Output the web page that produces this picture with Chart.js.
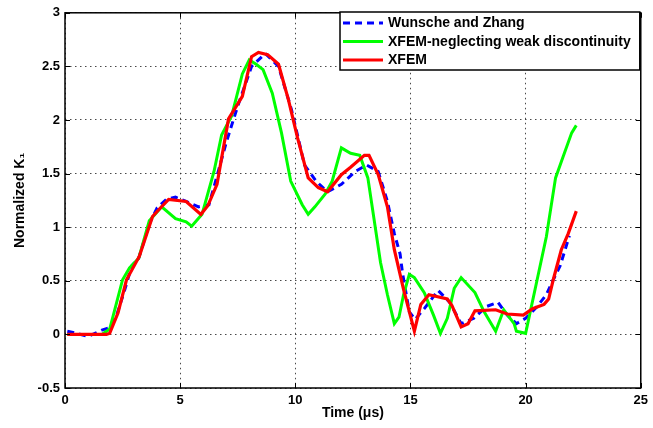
<!DOCTYPE html>
<html><head><meta charset="utf-8">
<script src="https://cdn.jsdelivr.net/npm/chart.js@4/dist/chart.umd.min.js"></script>
<style>html,body{margin:0;padding:0;background:#fff}canvas{display:block}</style>
</head><body>
<canvas id="c" width="653" height="428"></canvas>
<script>
// ---- data ----
const seriesNames = ["Wunsche and Zhang", "XFEM-neglecting weak discontinuity", "XFEM"];
const xTickVals = [0, 5, 10, 15, 20, 25];
const yTickVals = [-0.5, 0, 0.5, 1, 1.5, 2, 2.5, 3];

const wzT = [0.1,0.5,1.0,1.6,1.9,2.2,2.6,2.9,3.2,3.66,4.0,4.4,4.8,5.26,5.8,6.25,6.5,7.0,7.5,8.1,8.7,9.27,9.83,10.4,10.9,11.4,12.0,12.6,13.1,13.6,14.0,14.3,14.55,14.65,14.95,15.2,15.6,16.2,16.7,17.2,17.75,18.3,18.8,19.2,19.6,20.0,20.5,20.9,21.2,21.5,21.9];
const wzK = [0.03,0.01,-0.02,0.04,0.06,0.15,0.42,0.64,0.71,1.03,1.18,1.26,1.28,1.24,1.19,1.21,1.4,1.79,2.13,2.5,2.62,2.5,2.1,1.58,1.43,1.33,1.4,1.52,1.58,1.52,1.24,0.94,0.75,0.58,0.21,0.14,0.24,0.41,0.3,0.1,0.15,0.26,0.3,0.18,0.1,0.15,0.26,0.37,0.51,0.64,0.92];

const ngT = [0.1,1.6,1.94,2.5,2.8,3.2,3.66,4.2,4.8,5.26,5.5,5.95,6.47,6.8,7.24,7.7,8.0,8.3,8.6,9.0,9.4,9.8,10.3,10.56,10.85,11.3,11.6,12.0,12.4,12.8,13.15,13.45,13.7,14.0,14.3,14.5,14.7,14.95,15.17,15.6,16.0,16.3,16.6,16.9,17.2,17.8,18.2,18.7,19.05,19.5,19.6,20.0,20.5,20.9,21.3,21.6,22.0,22.2];
const ngK = [0,0,0.05,0.51,0.62,0.71,1.06,1.19,1.08,1.05,1.01,1.12,1.52,1.86,2.04,2.43,2.56,2.52,2.47,2.25,1.88,1.43,1.21,1.12,1.19,1.31,1.43,1.74,1.69,1.67,1.46,1.03,0.67,0.37,0.1,0.16,0.37,0.56,0.53,0.39,0.18,0.01,0.15,0.43,0.53,0.39,0.21,0.03,0.23,0.1,0.03,0.01,0.51,0.91,1.46,1.64,1.88,1.95];

const xfT = [0.1,1.8,1.94,2.3,2.67,3.23,3.8,4.1,4.5,5.26,5.9,6.2,6.6,7.1,7.7,8.1,8.4,8.8,9.27,9.7,10.1,10.56,11.0,11.4,12.0,12.4,13.0,13.2,13.6,14.0,14.3,14.7,15.17,15.45,15.8,16.6,16.8,17.2,17.5,17.8,18.7,19.2,19.9,20.3,20.8,21.0,21.2,21.55,21.85,22.2];
const xfK = [0,0,0.01,0.2,0.51,0.73,1.1,1.17,1.26,1.24,1.12,1.2,1.4,2.01,2.22,2.59,2.63,2.61,2.52,2.19,1.83,1.46,1.37,1.33,1.49,1.56,1.67,1.67,1.49,1.19,0.79,0.42,0.03,0.28,0.37,0.33,0.27,0.07,0.1,0.22,0.23,0.19,0.18,0.24,0.28,0.33,0.51,0.79,0.94,1.15];

const pts = (t, k) => t.map((v, i) => ({x: v, y: k[i]}));
const FONT = "'Liberation Sans', Arial, Helvetica, sans-serif";

const framePlugin = {
  id: 'frame',
  afterDraw(chart) {
    const {ctx, chartArea: a, scales: {x, y}} = chart;
    ctx.save();
    ctx.strokeStyle = '#000';
    ctx.lineWidth = 1;
    const ln = (x1, y1, x2, y2) => { ctx.beginPath(); ctx.moveTo(x1, y1); ctx.lineTo(x2, y2); ctx.stroke(); };
    xTickVals.forEach(v => { const p = Math.round(x.getPixelForValue(v)) + 0.5; ln(p, a.bottom, p, a.bottom - 5); ln(p, a.top, p, a.top + 5); });
    yTickVals.forEach(v => { const p = Math.round(y.getPixelForValue(v)) + 0.5; ln(a.left, p, a.left + 5, p); ln(a.right, p, a.right - 5, p); });
    ctx.lineWidth = 1.5;
    ctx.strokeRect(a.left, a.top, a.right - a.left, a.bottom - a.top);

    // legend box (inside, top right)
    const lx = 340, ly = 12, lw = a.right - 1 - lx, lh = 58;
    ctx.fillStyle = '#fff';
    ctx.fillRect(lx, ly, lw, lh);
    ctx.lineWidth = 1.5;
    ctx.strokeRect(lx, ly, lw, lh);
    ctx.font = "bold 14px " + FONT;
    ctx.textBaseline = 'middle';
    ctx.textAlign = 'left';
    const rows = [23, 41.5, 60];
    chart.data.datasets.forEach((ds, i) => {
      const yy = rows[i];
      ctx.strokeStyle = ds.borderColor;
      ctx.lineWidth = ds.borderWidth;
      ctx.setLineDash(ds.borderDash || []);
      ln(343, yy, 383, yy);
      ctx.setLineDash([]);
      ctx.fillStyle = '#000';
      ctx.fillText(ds.label, 388, yy + 0.5);
    });
    ctx.restore();
  }
};

new Chart(document.getElementById('c'), {
  type: 'scatter',
  data: {
    datasets: [
      {label: seriesNames[0], data: pts(wzT, wzK), showLine: true, borderColor: '#0000ff', borderWidth: 3, borderDash: [7, 5], pointRadius: 0, order: 3, tension: 0},
      {label: seriesNames[1], data: pts(ngT, ngK), showLine: true, borderColor: '#00ff00', borderWidth: 3, pointRadius: 0, order: 2, tension: 0},
      {label: seriesNames[2], data: pts(xfT, xfK), showLine: true, borderColor: '#ff0000', borderWidth: 3.2, pointRadius: 0, order: 1, tension: 0}
    ]
  },
  options: {
    responsive: false,
    animation: false,
    devicePixelRatio: 1,
    layout: {padding: {left: 0, top: 5, right: 8, bottom: 0}},
    plugins: {legend: {display: false}, tooltip: {enabled: false}},
    scales: {
      x: {
        type: 'linear', min: 0, max: 25,
        afterFit: s => { s.height = 40; },
        afterBuildTicks: s => { s.ticks = xTickVals.map(v => ({value: v})); },
        ticks: {color: '#000', font: {family: FONT, size: 13, weight: 'bold'}, padding: 5, maxRotation: 0, callback: v => String(v)},
        grid: {color: 'rgba(40,40,40,0.85)', lineWidth: 1, drawTicks: false},
        border: {display: false, dash: [1.5, 3.5]},
        title: {display: true, text: 'Time (μs)', color: '#000', font: {family: FONT, size: 14, weight: 'bold'}, padding: {top: 0, bottom: 6}}
      },
      y: {
        type: 'linear', min: -0.5, max: 3,
        afterFit: s => { s.width = 65; },
        afterBuildTicks: s => { s.ticks = yTickVals.map(v => ({value: v})); },
        ticks: {color: '#000', font: {family: FONT, size: 13, weight: 'bold'}, padding: 5, callback: v => String(v)},
        grid: {color: 'rgba(40,40,40,0.85)', lineWidth: 1, drawTicks: false},
        border: {display: false, dash: [1.5, 3.5]},
        title: {display: true, text: 'Normalized K₁', color: '#000', font: {family: FONT, size: 14, weight: 'bold'}, padding: {top: 12, bottom: 0}}
      }
    }
  },
  plugins: [framePlugin]
});
</script>
</body></html>
